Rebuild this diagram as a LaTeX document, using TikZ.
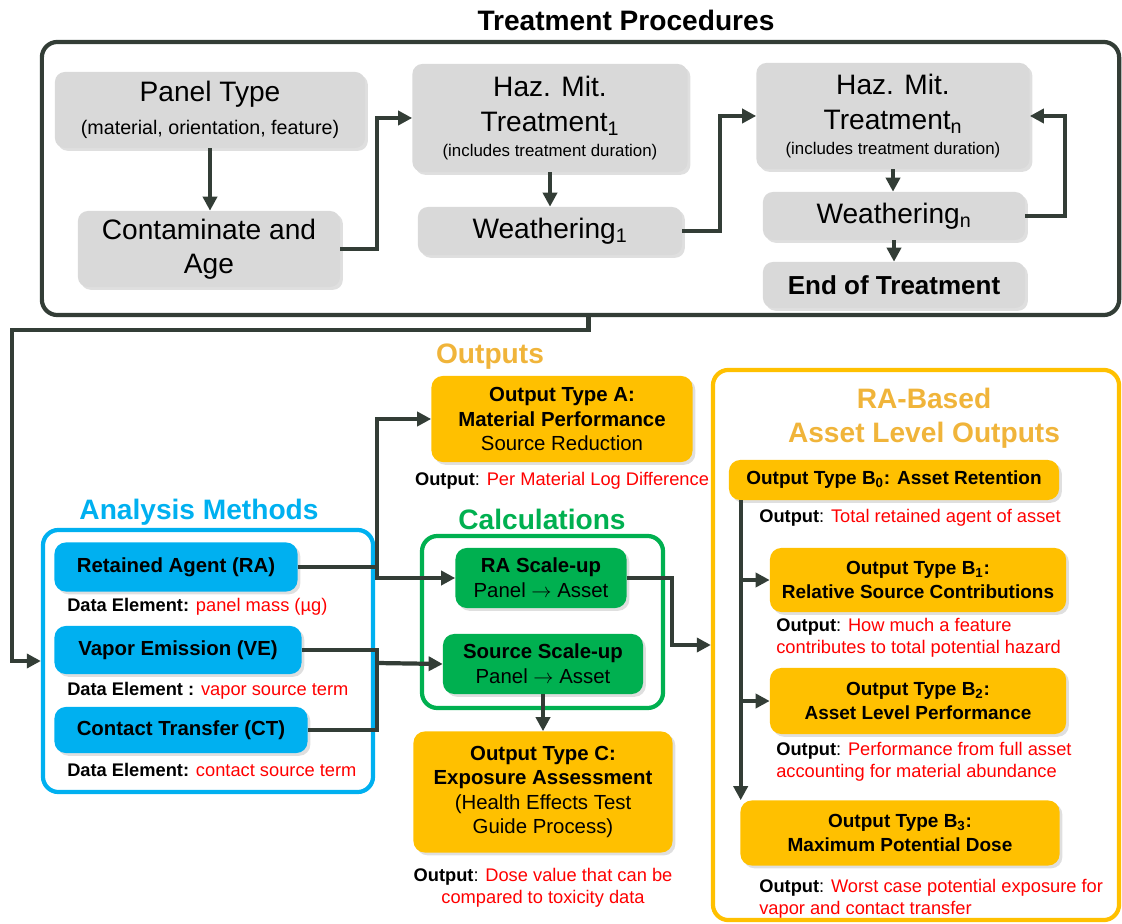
\documentclass[tikz,border=0pt]{standalone}
\usepackage{fontspec}
\setmainfont{Liberation Sans}
\usepackage{xcolor}
\usetikzlibrary{arrows.meta, positioning, shadows}
\definecolor{linegray}{HTML}{333D36}
\definecolor{boxgray}{HTML}{D9D9D9}
\definecolor{methblue}{HTML}{00B0F0}
\definecolor{calcgreen}{HTML}{00B050}
\definecolor{outgold}{HTML}{FFC000}
\definecolor{titlegold}{HTML}{F0B43A}
\definecolor{outred}{HTML}{FF0000}
\newcommand\hdrfont{\fontsize{20}{24}\selectfont\bfseries}
\newcommand\bigtxt{\fontsize{20}{24}\selectfont}
\newcommand\midtxt{\fontsize{14.5}{17.5}\selectfont}
\newcommand\rbtxt{\fontsize{13.5}{17}\selectfont\bfseries}
\newcommand\subtxt{\fontsize{14}{17}\selectfont}
\newcommand\tinytxt{\fontsize{12}{14}\selectfont}
\newcommand\notetxt{\fontsize{13}{15.5}\selectfont}

\begin{document}
\begin{tikzpicture}[x=0.025cm, y=-0.025cm,
  procbox/.style={fill=boxgray, rounded corners=7pt, align=center,
    inner sep=2pt, font=\bigtxt,
    drop shadow={shadow xshift=2pt, shadow yshift=-2pt, opacity=0.25}},
  colbox/.style={fill=#1, rounded corners=8pt, align=center,
    inner sep=2pt, font=\midtxt,
    drop shadow={shadow xshift=2pt, shadow yshift=-2pt, opacity=0.25}},
  boxframe/.style={draw=#1, line width=3pt, rounded corners=11pt,
    inner sep=0pt},
  hdr/.style={font=\hdrfont, text=#1, align=center},
  note/.style={font=\notetxt, align=left, inner sep=0pt},
  conn/.style={line width=3pt, draw=linegray},
  arr/.style={conn, -{Triangle[length=10pt, width=10pt]}}
]
  \useasboundingbox (0,0) rectangle (1122,924);
  \clip (0,0) rectangle (1122,924);

  % Treatment procedures
  \node[hdr=black] (tptitle) at (626,20) {Treatment Procedures};
  \node[boxframe=linegray, minimum width=26.925cm, minimum height=6.825cm]
    (frameTP) at (580.5,178.5) {};

  \node[procbox, minimum width=7.75cm, minimum height=1.9cm] (panel)
    at (210,110) {Panel Type\\[-1pt]{\subtxt (material, orientation, feature)}};
  \node[procbox, minimum width=6.55cm, minimum height=1.9cm] (contam)
    at (209,249) {Contaminate and\\Age};
  \node[procbox, minimum width=6.875cm, minimum height=2.7cm] (haz1)
    at (550,118) {Haz. Mit.\\[1pt]Treatment\textsubscript{1}\\[-6pt]{\tinytxt (includes treatment duration)}};
  \node[procbox, minimum width=6.6cm, minimum height=1.2cm] (weath1)
    at (550,231) {Weathering\textsubscript{1}};
  \node[procbox, minimum width=6.825cm, minimum height=2.65cm] (hazn)
    at (893,116) {Haz. Mit.\\[1pt]Treatment\textsubscript{n}\\[-6pt]{\tinytxt (includes treatment duration)}};
  \node[procbox, minimum width=6.55cm, minimum height=1.2cm] (weathn)
    at (894,216) {Weathering\textsubscript{n}};
  \node[procbox, minimum width=6.55cm, minimum height=1.15cm,
    font=\fontsize{18.5}{22}\selectfont\bfseries] (endt)
    at (894,285) {End of Treatment};

  \draw[arr] (panel.south) -- (panel.south |- contam.north);
  \draw[arr] (contam.east) -- ++(37,0) |- (haz1.west);
  \draw[arr] (haz1.south) -- (haz1.south |- weath1.north);
  \draw[arr] (weath1.east) -- ++(38,0) |- (hazn.west);
  \draw[arr] (hazn.south) -- (hazn.south |- weathn.north);
  \draw[arr] (weathn.east) -- ++(40,0) |- (hazn.east);
  \draw[arr] (weathn.south) -- (weathn.south |- endt.north);

  % Analysis methods
  \node[hdr=methblue] (amtitle) at (199,512) {Analysis Methods};
  \node[boxframe=methblue, minimum width=8.25cm, minimum height=6.55cm]
    (frameAM) at (208,661) {};
  \node[colbox=methblue, font=\midtxt\bfseries, minimum width=6.075cm,
    minimum height=1.225cm] (ra) at (176,567) {Retained Agent (RA)};
  \node[colbox=methblue, font=\midtxt\bfseries, minimum width=6.175cm,
    minimum height=1.2cm] (ve) at (178,650) {Vapor Emission (VE)};
  \node[colbox=methblue, font=\midtxt\bfseries, minimum width=6.325cm,
    minimum height=1.15cm] (ct) at (181,730) {Contact Transfer (CT)};
  \node[note, anchor=west] (rad) at (67,607)
    {\textbf{Data Element:} \textcolor{outred}{panel mass (µg)}};
  \node[note, anchor=west] (ved) at (67,691)
    {\textbf{Data Element :} \textcolor{outred}{vapor source term}};
  \node[note, anchor=west] (ctd) at (67,770)
    {\textbf{Data Element:} \textcolor{outred}{contact source term}};

  % Link from treatment to analysis
  \coordinate (turn) at (12,330);
  \draw[arr] ([xshift=0.2cm]frameTP.south) |- (turn) |- (frameAM.west);

  % Outputs
  \node[hdr=titlegold] (outtitle) at (490,357) {Outputs};
  \node[colbox=outgold, minimum width=6.525cm, minimum height=2.15cm]
    (outA) at (562,419)
    {\textbf{Output Type A:}\\\textbf{Material Performance}\\Source Reduction};
  \node[note] (outAd) at (562,481)
    {\textbf{Output}: \textcolor{outred}{Per Material Log Difference}};

  % Calculations
  \node[hdr=calcgreen] (catitle) at (542,519) {Calculations};
  \node[boxframe=calcgreen, minimum width=6.025cm, minimum height=4.3cm]
    (frameCA) at (542.5,622) {};
  \node[colbox=calcgreen, minimum width=4.275cm, minimum height=1.5cm]
    (rasc) at (541,578) {\textbf{RA Scale-up}\\Panel $\rightarrow$ Asset};
  \node[colbox=calcgreen, minimum width=5cm, minimum height=1.5cm]
    (src) at (543,664) {\textbf{Source Scale-up}\\Panel $\rightarrow$ Asset};

  \node[colbox=outgold, minimum width=6.475cm, minimum height=3.025cm]
    (outC) at (543,792)
    {\textbf{Output Type C:}\\\textbf{Exposure Assessment}\\(Health Effects Test\\Guide Process)};
  \node[note, align=center] (outCd) at (543,888)
    {\textbf{Output}: \textcolor{outred}{Dose value that can be}\\\textcolor{outred}{compared to toxicity data}};

  % Method links
  \coordinate (bus1) at (377,567);
  \coordinate (bus2) at (377,663);
  \draw[conn] (ra.east) -- (bus1);
  \draw[arr] (bus1) |- (outA.west);
  \draw[arr] (bus1) |- (rasc.west);
  \draw[conn] (ve.east) -| (bus2);
  \draw[conn] (ct.east) -| (bus2);
  \draw[arr] (bus2) -- (src.west);
  \draw[arr] (src.south) -- (outC.north);

  % RA-based asset level outputs
  \node[boxframe=outgold, minimum width=10.15cm, minimum height=13.75cm]
    (frameRB) at (916,645) {};
  \node[hdr=titlegold] (rbtitle) at (924,418) {RA-Based\\Asset Level Outputs};
  \draw[arr] (rasc.east) -- ++(45,0) |- (frameRB.west);

  \node[colbox=outgold, font=\rbtxt, minimum width=8.25cm,
    minimum height=1cm] (b0) at (894,480)
    {Output Type B\textsubscript{0}: Asset Retention};
  \node[note, anchor=west] (b0d) at (759,518)
    {\textbf{Output}: \textcolor{outred}{Total retained agent of asset}};
  \node[colbox=outgold, font=\rbtxt, minimum width=7.4cm,
    minimum height=1.6cm] (b1) at (918,580)
    {Output Type B\textsubscript{1}:\\Relative Source Contributions};
  \node[note, anchor=west] (b1d) at (776,638)
    {\textbf{Output}: \textcolor{outred}{How much a feature}\\\textcolor{outred}{contributes to total potential hazard}};
  \node[colbox=outgold, font=\rbtxt, minimum width=7.4cm,
    minimum height=1.65cm] (b2) at (918,701)
    {Output Type B\textsubscript{2}:\\Asset Level Performance};
  \node[note, anchor=west] (b2d) at (776,762)
    {\textbf{Output}: \textcolor{outred}{Performance from full asset}\\\textcolor{outred}{accounting for material abundance}};
  \node[colbox=outgold, font=\rbtxt, minimum width=7.975cm,
    minimum height=1.625cm] (b3) at (900,833)
    {Output Type B\textsubscript{3}:\\Maximum Potential Dose};
  \node[note, anchor=west] (b3d) at (759,899)
    {\textbf{Output}: \textcolor{outred}{Worst case potential exposure for}\\\textcolor{outred}{vapor and contact transfer}};

  \coordinate (bus3) at ([xshift=0.3cm]b0.south west);
  \draw[arr] (bus3) -- (bus3 |- b3.north);
  \draw[arr] (bus3 |- b1.west) -- (b1.west);
  \draw[arr] (bus3 |- b2.west) -- (b2.west);
\end{tikzpicture}
\end{document}
